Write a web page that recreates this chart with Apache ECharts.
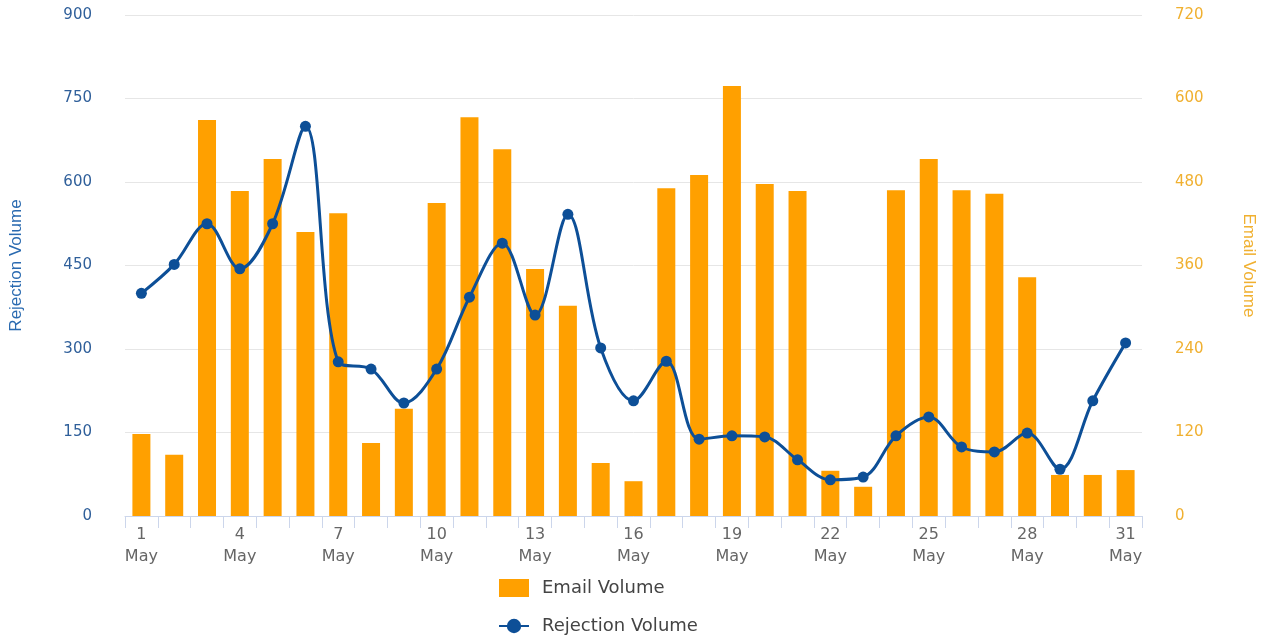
<!DOCTYPE html>
<html>
<head>
<meta charset="utf-8">
<script src="https://cdn.jsdelivr.net/npm/echarts@6/dist/echarts.min.js"></script>
<style>html,body{margin:0;padding:0;background:#fff;}#c{width:1271px;height:639px;}</style>
</head>
<body>
<div id="c"></div>
<script>
const days = [];
for (let d = 1; d <= 31; d++) days.push(d + '\nMay');
const emailVolume = [118, 88, 569, 467, 513, 408, 435, 105, 154, 450, 573, 527, 355, 302, 76, 50, 471, 490, 618, 477, 467, 65, 42, 468, 513, 468, 463, 343, 59, 59, 66];
const rejectionVolume = [400, 452, 525, 444, 525, 700, 277, 264, 203, 264, 393, 490, 361, 542, 302, 207, 278, 138, 144, 142, 101, 65, 70, 144, 178, 124, 115, 149, 84, 207, 311];
const leftTicks = {min: 0, max: 900, interval: 150};
const rightTicks = {min: 0, max: 720, interval: 120};

const chart = echarts.init(document.getElementById('c'), null, {renderer: 'canvas'});
chart.setOption({
  animation: false,
  backgroundColor: '#ffffff',
  grid: {left: 123, right: 129, top: 15, bottom: 123, containLabel: false},
  legend: {
    orient: 'vertical',
    left: 498,
    top: 579,
    padding: 0,
    itemGap: 20,
    itemWidth: 30,
    itemHeight: 18,
    textStyle: {color: '#444', fontSize: 18, fontFamily: 'DejaVu Sans', padding: [0,0,0,8]},
    data: [
      {name: 'Email Volume', icon: 'rect'},
      {name: 'Rejection Volume'}
    ]
  },
  xAxis: {
    type: 'category',
    data: days,
    boundaryGap: true,
    axisLine: {lineStyle: {color: '#ccd6eb', width: 1}},
    axisTick: {show: true, interval: 0, length: 12, lineStyle: {color: '#ccd6eb'}},
    axisLabel: {interval: 2, color: '#666', fontSize: 16, fontFamily: 'DejaVu Sans', lineHeight: 22, margin: 8},
    splitLine: {show: false}
  },
  yAxis: [
    {
      type: 'value',
      min: leftTicks.min, max: leftTicks.max, interval: leftTicks.interval,
      name: 'Rejection Volume',
      nameLocation: 'middle',
      nameGap: 100,
      nameTextStyle: {color: '#2a6ab0', fontSize: 17, fontFamily: 'Liberation Sans Narrow, Liberation Sans, sans-serif'},
      axisLine: {show: false},
      axisTick: {show: false},
      axisLabel: {color: '#2f5f9a', fontSize: 15, fontFamily: 'DejaVu Sans', margin: 33},
      splitLine: {show: true, lineStyle: {color: '#e6e6e6', width: 1}}
    },
    {
      type: 'value',
      position: 'right',
      min: rightTicks.min, max: rightTicks.max, interval: rightTicks.interval,
      name: 'Email Volume',
      nameLocation: 'middle',
      nameGap: 98,
      nameRotate: -90,
      nameTextStyle: {color: '#f0b030', fontSize: 17, fontFamily: 'Liberation Sans Narrow, Liberation Sans, sans-serif'},
      axisLine: {show: false},
      axisTick: {show: false},
      axisLabel: {color: '#f0b030', fontSize: 15, fontFamily: 'DejaVu Sans', margin: 33},
      splitLine: {show: false}
    }
  ],
  series: [
    {
      name: 'Email Volume',
      type: 'bar',
      yAxisIndex: 1,
      data: emailVolume,
      barWidth: 18,
      itemStyle: {color: '#ffa000'},
      z: 1
    },
    {
      name: 'Rejection Volume',
      type: 'line',
      yAxisIndex: 0,
      data: rejectionVolume,
      smooth: 0.35,
      symbol: 'circle',
      symbolSize: 11,
      lineStyle: {color: '#0d4f97', width: 3},
      itemStyle: {color: '#0d4f97'},
      z: 3
    }
  ]
});
</script>
</body>
</html>
